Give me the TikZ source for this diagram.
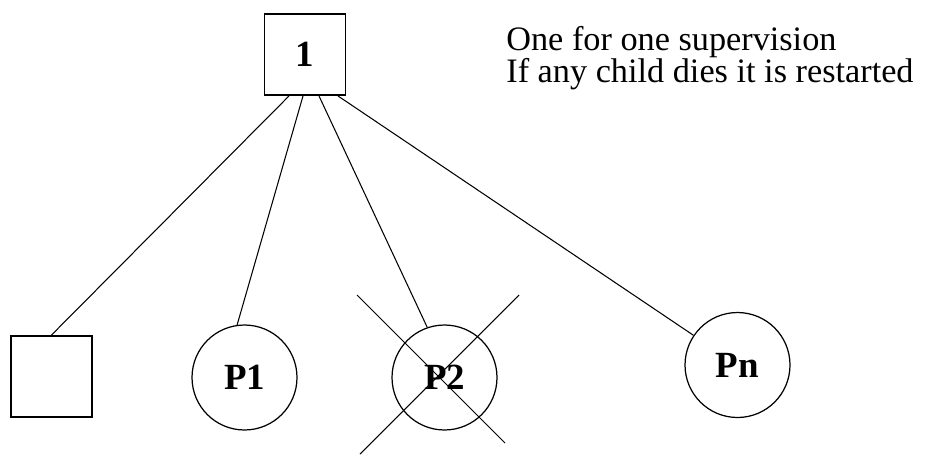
\documentclass[tikz,border=0pt]{standalone}
\usepackage{fontspec}
\setmainfont{Liberation Serif}
\begin{document}
\begin{tikzpicture}[x=0.02cm,y=-0.02cm,
  boxnode/.style={draw,line width=1.1pt,minimum width=1.62cm,minimum height=1.62cm,inner sep=0pt,font=\fontsize{21}{24}\selectfont\bfseries},
  procnode/.style={draw,circle,line width=0.7pt,minimum size=2.1cm,inner sep=0pt,font=\fontsize{21}{24}\selectfont\bfseries},
  link/.style={line width=0.6pt},
  note/.style={anchor=base west,inner sep=0pt,font=\fontsize{19.5}{22}\selectfont}]
\useasboundingbox (0,0) rectangle (952,456);
% supervisor and children
\node[boxnode] (sup) at (305,54.5) {1};
\node[boxnode] (worker) at (51.5,376.5) {};
\node[procnode] (p1) at (244.5,377.5) {P1};
\node[procnode] (p2) at (444.5,377.5) {P2};
\node[procnode] (pn) at (737.5,365) {Pn};
\draw[link] ([xshift=-0.32cm]sup.south) -- (worker.north);
\draw[link] ([xshift=-0.04cm]sup.south) -- (p1.98);
\draw[link] ([xshift=0.28cm]sup.south) -- (p2.109);
\draw[link] ([xshift=0.66cm]sup.south) -- (pn.146);
% crossed out child
\coordinate (c1) at (357,295); \coordinate (c2) at (505,443);
\coordinate (c3) at (519,295); \coordinate (c4) at (360,454);
\draw[link] (c1) -- (c2);
\draw[link] (c3) -- (c4);
% note
\node[note] (note1) at (506,51) {One for one supervision};
\node[note] (note2) at (506,83) {If any child dies it is restarted};
\end{tikzpicture}
\end{document}
